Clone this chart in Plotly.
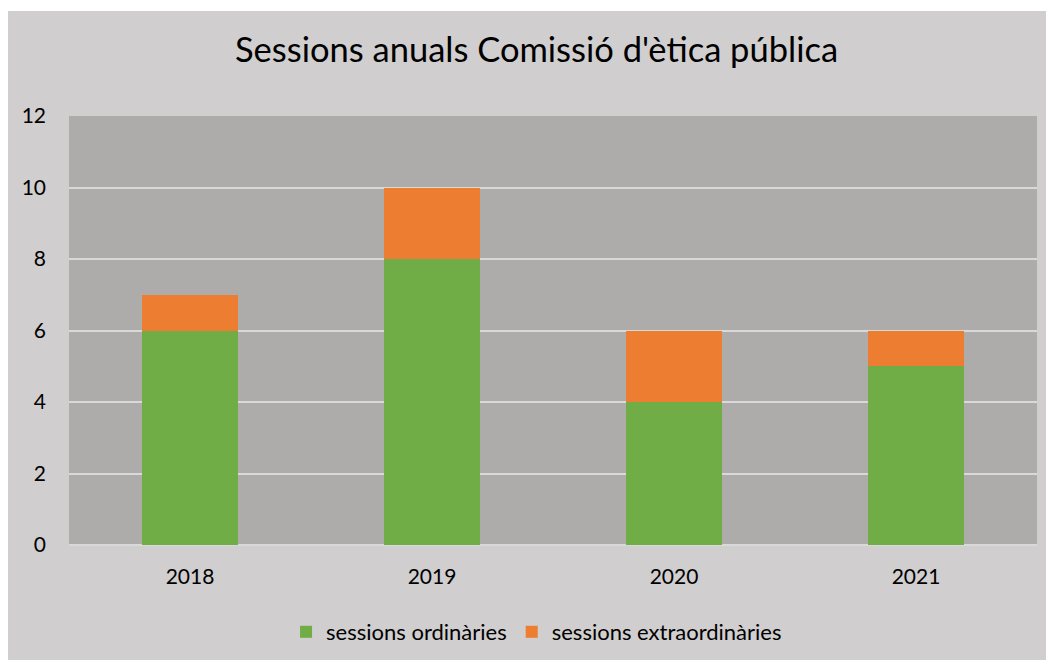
import plotly.graph_objects as go

years = ["2018", "2019", "2020", "2021"]
ordinaries = [6, 8, 4, 5]
extraordinaries = [1, 2, 2, 1]
y_ticks = [0, 2, 4, 6, 8, 10, 12]

# page has an 8px body margin, so the figure is drawn from (8, 8)
W, H = 1046, 652
L, R, T, B = 61, 17, 108, 115
pw, ph = W - L - R, H - T - B

fig = go.Figure()
fig.add_trace(go.Bar(x=years, y=ordinaries, name="sessions ordinàries",
                     marker=dict(color="#70ad47", line=dict(width=0))))
fig.add_trace(go.Bar(x=years, y=extraordinaries, name="sessions extraordinàries",
                     marker=dict(color="#ed7d31", line=dict(width=0))))

font = "Lato, 'Noto Sans', sans-serif"
fig.update_layout(
    width=W, height=H,
    margin=dict(l=L, r=R, t=T, b=B, autoexpand=False),
    barmode="stack", bargap=0.6,
    paper_bgcolor="#d0cece", plot_bgcolor="#aeabab",
    font=dict(family=font, color="#000000", size=21),
    title=dict(text="Sessions anuals Comissió d'ètica pública",
               x=(536.5 - 8) / W, xanchor="center", y=1 - 42 / H, yanchor="middle",
               font=dict(size=34.5, family=font, color="#000000")),
    xaxis=dict(showgrid=False, ticks="", ticklabelstandoff=17,
               tickfont=dict(size=21), showline=False, automargin=False),
    yaxis=dict(range=[0, 12], tickvals=y_ticks, showgrid=True,
               gridcolor="#d9d9d9", gridwidth=1.5, zeroline=True,
               zerolinecolor="#d9d9d9", zerolinewidth=1.5, automargin=False,
               ticks="", ticklabelstandoff=22, tickfont=dict(size=21)),
    legend=dict(orientation="h", x=0.483, xanchor="center",
                yref="container", y=1 - 624 / H, yanchor="middle",
                font=dict(size=22), itemwidth=30, traceorder="normal",
                bgcolor="rgba(0,0,0,0)"),
    showlegend=True,
)

# thin white strip at the very top of the chart area
fig.add_shape(type="rect", xref="paper", yref="paper",
              x0=-L / pw - 0.01, x1=(W - L) / pw + 0.01,
              y0=(T + ph - 3) / ph, y1=(T + ph) / ph + 0.01,
              fillcolor="#ffffff", line=dict(width=0), layer="below")

fig.write_html("out.html")
